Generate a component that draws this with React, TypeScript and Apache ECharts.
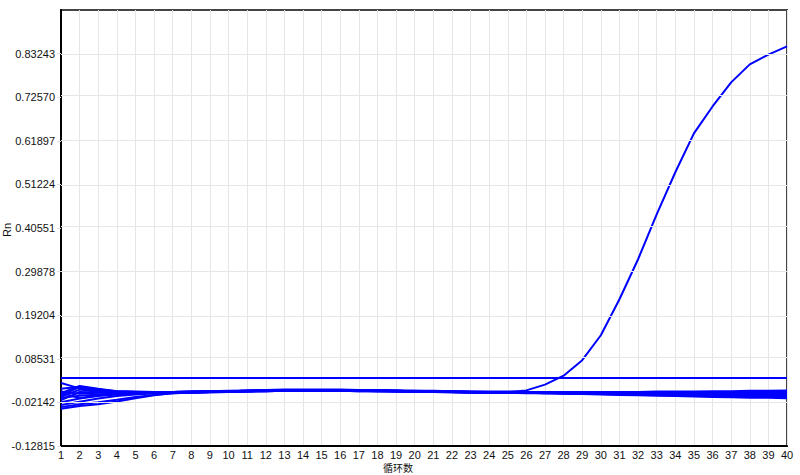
import React, { useEffect, useRef } from "react";
import * as echarts from "echarts";

const CYCLES = Array.from({ length: 40 }, (_, i) => i + 1);

const Y_TICKS = [-0.12815, -0.02142, 0.08531, 0.19204, 0.29878, 0.40551, 0.51224, 0.61897, 0.7257, 0.83243];
const Y_MIN = -0.12815;
const Y_MAX = 0.93916;
const THRESHOLD = 0.0417;

const AMP = [-0.008, 0.010, 0.004, 0.002, 0.003, 0.004, 0.004, 0.004, 0.005, 0.006, 0.006, 0.007, 0.007, 0.007, 0.007, 0.007, 0.006, 0.006, 0.005, 0.005, 0.004, 0.004, 0.004, 0.004, 0.004, 0.008, 0.022, 0.044, 0.082, 0.143, 0.231, 0.329, 0.439, 0.542, 0.637, 0.703, 0.762, 0.806, 0.830, 0.850];

const B1 = [0.026, 0.013, 0.007, 0.005, 0.004, 0.004, 0.004, 0.005, 0.006, 0.007, 0.008, 0.009, 0.010, 0.010, 0.010, 0.010, 0.009, 0.009, 0.008, 0.007, 0.007, 0.006, 0.005, 0.005, 0.005, 0.004, 0.004, 0.004, 0.004, 0.004, 0.004, 0.004, 0.005, 0.005, 0.005, 0.006, 0.006, 0.007, 0.007, 0.008];
const B2 = [0.001, 0.019, 0.012, 0.006, 0.004, 0.003, 0.003, 0.004, 0.005, 0.006, 0.007, 0.008, 0.008, 0.009, 0.009, 0.009, 0.008, 0.008, 0.007, 0.006, 0.006, 0.005, 0.004, 0.004, 0.004, 0.003, 0.003, 0.002, 0.002, 0.002, 0.001, 0.001, 0.001, 0.001, 0.001, 0.001, 0.002, 0.002, 0.003, 0.004];
const B3 = [-0.037, -0.030, -0.026, -0.019, -0.011, -0.004, 0.001, 0.002, 0.003, 0.004, 0.005, 0.006, 0.007, 0.007, 0.007, 0.007, 0.006, 0.006, 0.005, 0.004, 0.004, 0.003, 0.002, 0.002, 0.002, 0.001, 0.001, 0.000, -0.001, -0.002, -0.003, -0.004, -0.005, -0.006, -0.007, -0.008, -0.009, -0.010, -0.010, -0.011];
const B4 = [-0.033, -0.026, -0.021, -0.015, -0.008, -0.003, 0.001, 0.003, 0.004, 0.005, 0.006, 0.007, 0.007, 0.008, 0.008, 0.008, 0.007, 0.007, 0.006, 0.005, 0.005, 0.004, 0.003, 0.003, 0.003, 0.002, 0.002, 0.001, 0.000, -0.001, -0.002, -0.003, -0.003, -0.004, -0.005, -0.006, -0.006, -0.007, -0.008, -0.008];
const B5 = [-0.028, -0.020, -0.012, -0.006, -0.002, 0.001, 0.002, 0.003, 0.004, 0.005, 0.006, 0.007, 0.008, 0.008, 0.009, 0.008, 0.008, 0.007, 0.007, 0.006, 0.005, 0.004, 0.004, 0.003, 0.003, 0.002, 0.002, 0.001, 0.001, 0.000, -0.001, -0.001, -0.002, -0.002, -0.003, -0.003, -0.004, -0.004, -0.005, -0.005];
const B6 = [-0.010, -0.005, -0.002, 0.000, 0.001, 0.002, 0.003, 0.004, 0.005, 0.006, 0.007, 0.008, 0.009, 0.009, 0.009, 0.009, 0.009, 0.008, 0.007, 0.007, 0.006, 0.005, 0.005, 0.004, 0.004, 0.003, 0.003, 0.002, 0.002, 0.001, 0.001, 0.000, 0.000, -0.001, -0.001, -0.001, -0.002, -0.002, -0.002, -0.003];
const B7 = [-0.004, 0.016, 0.009, 0.005, 0.004, 0.004, 0.004, 0.005, 0.005, 0.006, 0.007, 0.008, 0.008, 0.009, 0.009, 0.008, 0.008, 0.007, 0.007, 0.006, 0.005, 0.005, 0.004, 0.004, 0.003, 0.003, 0.002, 0.002, 0.002, 0.002, 0.002, 0.002, 0.002, 0.003, 0.003, 0.003, 0.004, 0.004, 0.005, 0.006];
const B8 = [0.005, 0.000, 0.002, 0.003, 0.003, 0.003, 0.003, 0.004, 0.004, 0.005, 0.006, 0.006, 0.007, 0.007, 0.007, 0.007, 0.007, 0.006, 0.006, 0.005, 0.004, 0.004, 0.003, 0.003, 0.002, 0.002, 0.001, 0.001, 0.000, 0.000, -0.001, -0.001, -0.002, -0.002, -0.002, -0.003, -0.003, -0.003, -0.004, -0.004];
const B9 = [-0.016, 0.004, 0.003, 0.003, 0.003, 0.003, 0.003, 0.004, 0.005, 0.005, 0.006, 0.007, 0.007, 0.008, 0.008, 0.008, 0.007, 0.007, 0.006, 0.006, 0.005, 0.004, 0.004, 0.003, 0.003, 0.003, 0.002, 0.002, 0.001, 0.001, 0.001, 0.000, 0.000, 0.000, 0.000, 0.000, 0.000, 0.001, 0.001, 0.001];
const B10 = [0.012, 0.017, 0.010, 0.006, 0.005, 0.004, 0.004, 0.005, 0.005, 0.006, 0.007, 0.007, 0.008, 0.008, 0.008, 0.008, 0.008, 0.007, 0.007, 0.006, 0.006, 0.005, 0.004, 0.004, 0.003, 0.003, 0.003, 0.002, 0.002, 0.001, 0.001, 0.001, 0.001, 0.001, 0.002, 0.002, 0.002, 0.003, 0.003, 0.003];
const B11 = [-0.021, -0.012, -0.006, -0.002, 0.000, 0.001, 0.002, 0.003, 0.004, 0.005, 0.006, 0.006, 0.007, 0.007, 0.007, 0.007, 0.007, 0.006, 0.006, 0.005, 0.004, 0.004, 0.003, 0.003, 0.002, 0.002, 0.001, 0.001, 0.000, -0.001, -0.001, -0.002, -0.003, -0.003, -0.004, -0.004, -0.005, -0.005, -0.006, -0.006];
const B12 = [0.002, -0.011, -0.004, -0.001, 0.001, 0.002, 0.003, 0.003, 0.004, 0.005, 0.006, 0.007, 0.007, 0.008, 0.008, 0.008, 0.007, 0.007, 0.006, 0.006, 0.005, 0.004, 0.004, 0.003, 0.003, 0.002, 0.002, 0.001, 0.001, 0.000, 0.000, -0.001, -0.001, -0.002, -0.002, -0.002, -0.003, -0.003, -0.003, -0.003];

const BASELINES = [B1, B2, B3, B4, B5, B6, B7, B8, B9, B10, B11, B12];

const X_NAME = "循环数";
const Y_NAME = "Rn";

const BLUE = "#0000ff";
const FONT = "'Liberation Sans', Arial, sans-serif";

export default function App() {
  const ref = useRef<HTMLDivElement>(null);

  useEffect(() => {
    document.body.style.margin = "0";
    const chart = echarts.init(ref.current!, undefined, { renderer: "svg" });

    const toPairs = (vals: number[]) => CYCLES.map((c, i) => [c, vals[i]]);

    const series: any[] = [
      {
        name: "grid",
        type: "line",
        data: [],
        z: 1,
        silent: true,
        markLine: {
          silent: true,
          symbol: "none",
          label: { show: false },
          lineStyle: { color: "#e6e6e6", width: 1, type: "solid" },
          data: Y_TICKS.map((v) => ({ yAxis: v })),
        },
      },
    ];
    BASELINES.forEach((b, i) =>
      series.push({
        name: "b" + (i + 1),
        type: "line",
        data: toPairs(b),
        symbol: "none",
        lineStyle: { color: BLUE, width: 2 },
        z: 3,
      })
    );
    series.push({
      name: "amp",
      type: "line",
      data: toPairs(AMP),
      symbol: "none",
      lineStyle: { color: BLUE, width: 2 },
      z: 4,
      markLine: {
        silent: true,
        symbol: "none",
        label: { show: false },
        lineStyle: { color: BLUE, width: 2, type: "solid" },
        data: [{ yAxis: THRESHOLD }],
      },
    });

    chart.setOption({
      animation: false,
      backgroundColor: "#ffffff",
      grid: {
        left: 61,
        right: 13,
        top: 10,
        bottom: 29,
        show: true,
        borderColor: "#444",
        borderWidth: 2,
        backgroundColor: "transparent",
      },
      xAxis: {
        type: "value",
        min: 1,
        max: 40,
        interval: 1,
        axisLine: { show: true, onZero: false, lineStyle: { color: "#000", width: 2 } },
        axisTick: { show: false },
        axisLabel: { color: "#111", fontSize: 11, lineHeight: 11, fontFamily: FONT, margin: 3 },
        splitLine: { show: true, lineStyle: { color: "#e6e6e6", width: 1 } },
      },
      yAxis: {
        type: "value",
        min: Y_MIN,
        max: Y_MAX,
        axisLine: { show: true, onZero: false, lineStyle: { color: "#000", width: 2 } },
        axisTick: { show: true, length: 4, lineStyle: { color: "#e0e0e0" }, customValues: Y_TICKS },
        axisLabel: {
          color: "#111",
          fontSize: 11,
          fontFamily: FONT,
          margin: 6,
          customValues: Y_TICKS,
          formatter: (v: number) => v.toFixed(5),
        },
        splitLine: { show: false },
      },
      graphic: [
        {
          type: "text",
          x: 398,
          y: 467,
          style: {
            text: X_NAME,
            fill: "#111",
            font: "10px 'Noto Sans CJK SC', sans-serif",
            lineHeight: 10,
            textAlign: "center",
            textVerticalAlign: "middle",
          },
        },
        {
          type: "text",
          x: 7,
          y: 230,
          rotation: Math.PI / 2,
          style: {
            text: Y_NAME,
            fill: "#111",
            font: "11px " + FONT,
            textAlign: "center",
            textVerticalAlign: "middle",
          },
        },
      ],
      series,
    });

    return () => chart.dispose();
  }, []);

  return <div ref={ref} style={{ width: 800, height: 475 }} />;
}
